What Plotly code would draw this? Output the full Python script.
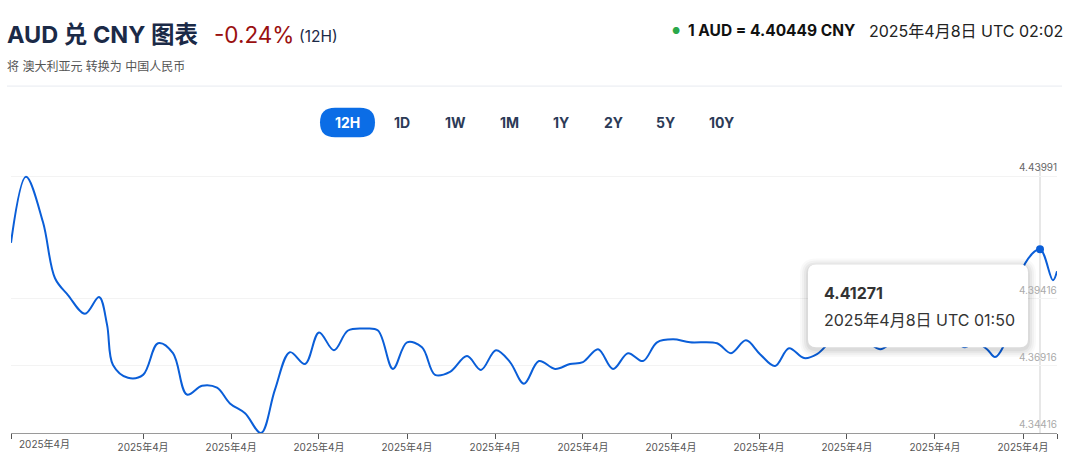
import plotly.graph_objects as go

# ---- data (minutes since start of the 12H window, AUD->CNY rate) ----
minutes = [0, 10.3, 22.0, 30.3, 39.2, 50.9, 60.6, 66.1, 70.2, 80.5, 90.9, 101.2, 111.5, 121.1,
           131.5, 141.8, 150.7, 161.1, 172.1, 181.7, 192.0, 202.4, 212.0, 222.3, 232.0, 243.7,
           252.6, 262.9, 272.6, 282.9, 291.9, 302.2, 313.9, 323.5, 333.8, 343.5, 353.1, 363.4,
           374.5, 384.8, 393.7, 404.1, 414.4, 424.7, 435.0, 444.7, 455.7, 467.4, 486.0, 495.6,
           505.9, 515.6, 525.9, 535.5, 545.9, 554.8, 567.2, 577.5, 587.8, 598.2, 608.5, 618.8,
           629.1, 639.5, 649.8, 656.7, 663.6, 671.8, 677.3, 682.8, 691.1, 698.0, 708.3, 717.2, 720]
rates = [4.41512, 4.43975, 4.42284, 4.40188, 4.39563, 4.38865, 4.39490, 4.38460, 4.36953, 4.36475,
         4.36585, 4.37762, 4.37394, 4.35850, 4.36181, 4.36107, 4.35519, 4.35151, 4.34416, 4.36034,
         4.37431, 4.36990, 4.38166, 4.37504, 4.38240, 4.38313, 4.38240, 4.36806, 4.37798, 4.37615,
         4.36585, 4.36695, 4.37284, 4.36769, 4.37504, 4.37063, 4.36254, 4.37100, 4.36806, 4.36990,
         4.37063, 4.37541, 4.36806, 4.37394, 4.37100, 4.37798, 4.37909, 4.37798, 4.37762, 4.37394,
         4.37872, 4.37357, 4.36916, 4.37578, 4.37210, 4.37357, 4.37982, 4.38166, 4.37909, 4.37541,
         4.37872, 4.38056, 4.38129, 4.37982, 4.37798, 4.37615, 4.37798, 4.37541, 4.37247, 4.37615,
         4.39269, 4.40740, 4.41271, 4.40115, 4.40449]

y_ticks = [4.34416, 4.36916, 4.39416, 4.43991]
y_tick_labels = ["4.34416", "4.36916", "4.39416", "4.43991"]
x_ticks = [0, 90.9, 151.5, 212.0, 272.6, 333.2, 393.7, 454.3, 514.9, 575.4, 636.0, 696.6, 720]
x_tick_labels = ["", "2025年4月", "2025年4月", "2025年4月", "2025年4月", "2025年4月", "2025年4月",
                 "2025年4月", "2025年4月", "2025年4月", "2025年4月", "2025年4月", ""]
first_label_pos = 23.4
first_label = "2025年4月"
hover_t, hover_v = 708.3, 4.41271
ranges = ["12H", "1D", "1W", "1M", "1Y", "2Y", "5Y", "10Y"]

W, H = 1077, 464
ML, MR, MT, MB = 11, 20, 160, 27
PW, PH = W - ML - MR, H - MT - MB
FONT = "Inter, Noto Sans CJK SC, sans-serif"


def px(x, y):
    return (x - ML) / PW, (H - MB - y) / PH


def rounded(x0, y0, x1, y1, r):
    ax0, ay1 = px(x0, y0)
    ax1, ay0 = px(x1, y1)
    rx, ry = r / PW, r / PH
    return (f"M{ax0+rx},{ay1} L{ax1-rx},{ay1} Q{ax1},{ay1} {ax1},{ay1-ry} "
            f"L{ax1},{ay0+ry} Q{ax1},{ay0} {ax1-rx},{ay0} L{ax0+rx},{ay0} "
            f"Q{ax0},{ay0} {ax0},{ay0+ry} L{ax0},{ay1-ry} Q{ax0},{ay1} {ax0+rx},{ay1} Z")


fig = go.Figure()
fig.add_trace(go.Scatter(x=minutes, y=rates, mode="lines",
                         line=dict(color="#0a5ed8", width=2, shape="spline", smoothing=1.0),
                         hoverinfo="skip"))
fig.add_trace(go.Scatter(x=[hover_t], y=[hover_v], mode="markers",
                         marker=dict(color="#0a5ed8", size=8), hoverinfo="skip"))

shapes = []
# crosshair
shapes.append(dict(type="line", xref="x", yref="paper", x0=hover_t, x1=hover_t,
                   y0=0, y1=px(0, 165)[1], line=dict(color="#cfcfcf", width=1), layer="below"))
# separator line
a, b = px(7, 85)
c, _ = px(1062, 85)
shapes.append(dict(type="line", xref="paper", yref="paper", x0=a, x1=c, y0=b, y1=b,
                   line=dict(color="#e7eaf0", width=1)))
# selected range pill
shapes.append(dict(type="path", xref="paper", yref="paper", path=rounded(320, 107, 375, 137, 15),
                   fillcolor="#0b6de6", line=dict(width=0)))
# tooltip shadow + box
for i, op in [(8, 0.025), (6, 0.03), (4, 0.04), (2, 0.05)]:
    shapes.append(dict(type="path", xref="paper", yref="paper",
                       path=rounded(808 - i, 266 - i + 2, 1028 + i, 350 + i + 2, 8 + i),
                       fillcolor=f"rgba(0,0,0,{op})", line=dict(width=0)))
shapes.append(dict(type="path", xref="paper", yref="paper", path=rounded(808, 266, 1028, 350, 8),
                   fillcolor="white", line=dict(width=0)))

ann = []


def text(x, y, s, size, color, bold=False, anchor="left"):
    X, Y = px(x, y)
    ann.append(dict(xref="paper", yref="paper", x=X, y=Y, xanchor=anchor, yanchor="middle",
                    text=f"<b>{s}</b>" if bold else s, showarrow=False,
                    font=dict(family=FONT, size=size, color=color)))


text(5, 33, "AUD 兑 CNY 图表", 23.5, "#1b2a47", bold=True)
text(212, 33, "-0.24%", 22.5, "#9a1010")
text(297, 35, "(12H)", 15.5, "#1b2a47")
text(5, 65, "将 澳大利亚元 转换为 中国人民币", 12, "#555555")
text(670, 29, "●", 9, "#2aa84a")
text(686, 29, "1 AUD = 4.40449 CNY", 15.5, "#111111", bold=True)
text(867, 29, "2025年4月8日 UTC 02:02", 16, "#222222")

btn_x = [347, 402, 455, 509, 561, 613, 665, 721]
for lab, bx in zip(ranges, btn_x):
    text(bx, 122, lab, 14, "white" if lab == "12H" else "#2c3b57", bold=True, anchor="center")

# y labels above gridlines
for v, lab in zip(y_ticks, y_tick_labels):
    ann.append(dict(xref="paper", yref="y", x=1.002, y=v, xanchor="right", yanchor="bottom",
                    yshift=1, text=lab, showarrow=False,
                    font=dict(family=FONT, size=10, color="#666666" if v == y_ticks[-1] else "#aaaaaa")))
# first x label
ann.append(dict(xref="x", yref="paper", x=first_label_pos, y=0, yanchor="top", yshift=-3,
                text=first_label, showarrow=False, font=dict(family=FONT, size=10, color="#555555")))
# tooltip text
text(822, 295, "4.41271", 16, "#333333", bold=True)
text(822, 322, "2025年4月8日 UTC 01:50", 16, "#333333")

fig.update_layout(
    width=W, height=H, margin=dict(l=ML, r=MR, t=MT, b=MB),
    paper_bgcolor="white", plot_bgcolor="white", showlegend=False,
    shapes=shapes, annotations=ann, hovermode=False,
    xaxis=dict(range=[0, 720], tickvals=x_ticks, ticktext=x_tick_labels, showgrid=False,
               zeroline=False, showline=True, linecolor="#9a9a9a", linewidth=1,
               ticks="outside", ticklen=5, tickcolor="#555555",
               tickfont=dict(family=FONT, size=10, color="#555555"), fixedrange=True),
    yaxis=dict(range=[4.34416, 4.446], tickvals=y_ticks, showticklabels=False,
               showgrid=True, gridcolor="#f3f3f3", gridwidth=1, zeroline=False,
               showline=False, fixedrange=True),
)

fig.write_html("out.html", config={"displayModeBar": False})
